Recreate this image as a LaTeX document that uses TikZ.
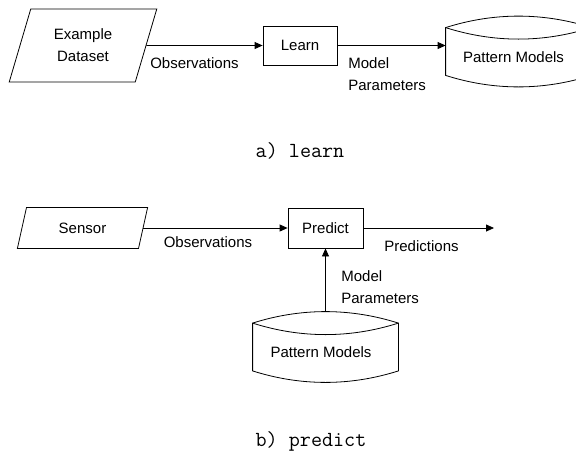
\documentclass[tikz,border=0pt]{standalone}
\usepackage{fontspec}
\setmainfont{Liberation Sans}
\usetikzlibrary{arrows.meta,shapes.geometric}
\newcommand\drawcyl[1]{%
  \draw ([yshift=-11.5pt]#1.north west)
     .. controls ([xshift=48.3pt,yshift=3.83pt]#1.north west) and ([xshift=-48.3pt,yshift=3.83pt]#1.north east) .. ([yshift=-11.5pt]#1.north east)
     -- ([yshift=11.5pt]#1.south east)
     .. controls ([xshift=-48.3pt,yshift=-3.83pt]#1.south east) and ([xshift=48.3pt,yshift=-3.83pt]#1.south west) .. ([yshift=11.5pt]#1.south west)
     -- cycle;
  \draw ([yshift=-11.5pt]#1.north west)
     .. controls ([xshift=48.3pt,yshift=-26.83pt]#1.north west) and ([xshift=-48.3pt,yshift=-26.83pt]#1.north east) .. ([yshift=-11.5pt]#1.north east);
}
\begin{document}
\begin{tikzpicture}[x=1pt,y=-1pt, line width=0.8pt,
  every node/.style={font=\fontsize{15}{22}\selectfont, inner sep=0pt},
  para/.style={draw, trapezium, trapezium left angle=70, trapezium right angle=110, trapezium stretches=true, align=center},
  proc/.style={draw, rectangle},
  cylbox/.style={rectangle, minimum width=145pt, minimum height=70pt},
  lbl/.style={anchor=west, align=left},
  captxt/.style={font=\ttfamily\fontsize{21.5}{24}\selectfont},
  flow/.style={-{Triangle[length=8pt,width=7pt]}}]
\useasboundingbox (0,0) rectangle (576,451);

% a) learn
\node[para, minimum width=148pt, minimum height=73pt] (ds) at (83,45.5) {Example\\Dataset};
\node[proc, minimum width=74pt, minimum height=39pt] (lrn) at (300,45.5) {Learn};
\node[cylbox, label={[xshift=-5pt,yshift=-5.5pt]center:Pattern Models}] (pm1) at (518.5,51.5) {};
\drawcyl{pm1}
\draw[flow] (ds) -- (lrn);
\draw[flow] (lrn.east) -- (lrn.east -| pm1.west);
\node (obs1) at (194.5,63) {Observations};
\node[lbl] (mp1) at (348,74) {Model\\Parameters};
\node[captxt] (capa) at (300,151) {a) learn};

% b) predict
\node[para, minimum width=131pt, minimum height=41pt] (sen) at (82.5,228) {Sensor};
\node[proc, minimum width=75pt, minimum height=40pt] (prd) at (325.5,228) {Predict};
\coordinate (out) at (494,228);
\node[cylbox, label={[xshift=-4.5pt,yshift=-5pt]center:Pattern Models}] (pm2) at (325.5,347) {};
\drawcyl{pm2}
\draw[flow] (sen) -- (prd);
\draw[flow] (prd) -- (out);
\draw[flow] (pm2.north) -- (prd.south);
\node (obs2) at (208,242) {Observations};
\node (pred) at (421.5,246) {Predictions};
\node[lbl] (mp2) at (341,287) {Model\\Parameters};
\node[captxt] (capb) at (311,441) {b) predict};
\end{tikzpicture}
\end{document}
